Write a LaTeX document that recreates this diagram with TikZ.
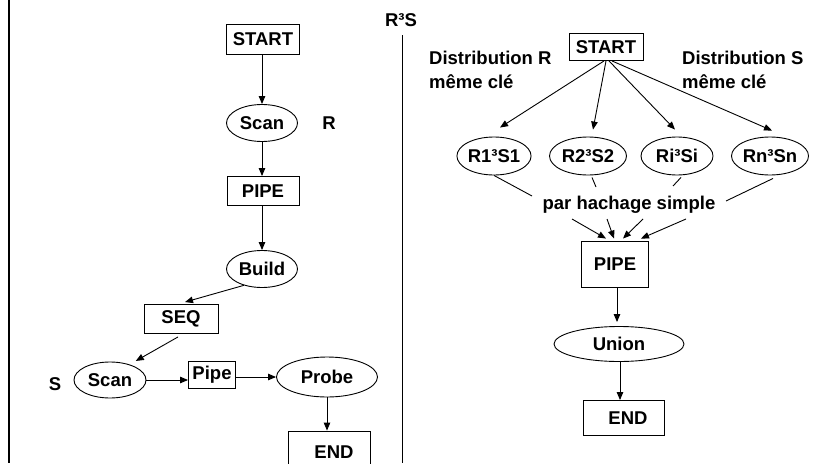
\documentclass[tikz,border=0pt]{standalone}
\usepackage{fontspec}
\setmainfont{Liberation Sans}
\usetikzlibrary{arrows.meta,shapes.geometric,calc}
\begin{document}
\begin{tikzpicture}[x=1pt,y=-1pt,
  every node/.style={font=\bfseries\fontsize{18.5}{22}\selectfont, inner sep=0pt},
  box/.style={draw, line width=0.9pt, rectangle},
  oval/.style={draw, line width=0.9pt, ellipse},
  link/.style={line width=0.9pt},
  flow/.style={link, -{Triangle[length=8pt,width=6.5pt]}}]
\clip (0,0) rectangle (816,463);

% frame lines
\draw[line width=2.4pt] (9,0) -- (9,463);
\draw[line width=0.8pt] (402,35) -- (402,463);
\node (title) at (401,20) {R³S};

% ---- left: sequential plan ----
\node[box, minimum width=73pt, minimum height=30pt] (lstart) at (263,39) {START};
\node[oval, minimum width=71pt, minimum height=37pt] (lscan) at (262,123) {Scan};
\node (rlab) at (329,123) {R};
\node[box, minimum width=72pt, minimum height=29pt] (lpipe) at (263,191) {PIPE};
\node[oval, minimum width=71pt, minimum height=37pt] (lbuild) at (262,269) {Build};
\node[box, minimum width=74pt, minimum height=29pt] (lseq) at (181,319) {SEQ};
\node[oval, minimum width=72pt, minimum height=36pt] (sscan) at (110,380) {Scan};
\node (slab) at (55,384) {S};
\node[box, minimum width=47pt, minimum height=27pt] (spipe) at (212,375) {Pipe};
\node[oval, minimum width=101pt, minimum height=40pt] (probe) at (327,377) {Probe};
\node[box, minimum width=82pt, minimum height=42pt] (lend) at (329,452) {\hspace*{10pt}END};

\draw[flow] (lstart.south -| lscan.north) -- (lscan.north);
\draw[flow] (lscan.south) -- (lscan.south |- lpipe.north);
\draw[flow] (lpipe.south -| lbuild.north) -- (lbuild.north);
\draw[flow] (lbuild.222) -- ([xshift=4pt,yshift=2pt]lseq.north);
\draw[flow] ([xshift=-3pt,yshift=-3pt]lseq.south) -- ([yshift=6pt]sscan.north east);
\draw[flow] (sscan.east) -- (sscan.east -| spipe.west);
\draw[flow] (spipe.east |- probe.west) -- (probe.west);
\draw[flow] (probe.south) -- (probe.south |- lend.north);

% ---- right: parallel plan ----
\node[box, minimum width=74pt, minimum height=27pt] (rstart) at (606,47) {START};
\node[anchor=base west] (dr1) at (429,64) {Distribution R};
\node[anchor=base west] (dr2) at (429,88) {même clé};
\node[anchor=base west] (ds1) at (682,64) {Distribution S};
\node[anchor=base west] (ds2) at (682,88) {même clé};

\node[oval, minimum width=74pt, minimum height=38pt] (r1) at (494,156) {R1³S1};
\node[oval, minimum width=77pt, minimum height=38pt] (r2) at (588,156) {R2³S2};
\node[oval, minimum width=72pt, minimum height=38pt] (ri) at (677,156) {Ri³Si};
\node[oval, minimum width=73pt, minimum height=38pt] (rn) at (770,156) {Rn³Sn};

\draw[flow] ([xshift=-2pt]rstart.south) -- ([xshift=6pt,yshift=9pt]r1.north);
\draw[flow] (rstart.south) -- ([xshift=5pt,yshift=7pt]r2.north);
\draw[flow] ([xshift=3pt]rstart.south) -- ([xshift=-2pt,yshift=7pt]ri.north);
\draw[flow] ([xshift=6pt]rstart.south) -- ([xshift=2pt,yshift=6pt]rn.north);

\node (hash) at (629,205) {par hachage simple};

\coordinate (h1) at (532,196);
\coordinate (h2) at (596,187);
\coordinate (h3) at (673,186);
\coordinate (h4) at (726,201);
\draw[link] (r1.south) -- (h1);
\draw[link] ([xshift=4pt,yshift=-2pt]r2.south) -- (h2);
\draw[link] ([xshift=4pt,yshift=-2pt]ri.south) -- (h3);
\draw[link] ([xshift=3pt,yshift=-3pt]rn.south) -- (h4);

\node[box, minimum width=67pt, minimum height=46pt] (rpipe) at (615,264) {PIPE};
\coordinate (p1) at (572,219);
\coordinate (p2) at (607,219);
\coordinate (p3) at (643,219);
\coordinate (p4) at (686,219);
\draw[flow] (p1) -- ([xshift=-9pt,yshift=2pt]rpipe.north);
\draw[flow] (p2) -- ([xshift=-1pt,yshift=2pt]rpipe.north);
\draw[flow] (p3) -- ([xshift=8pt,yshift=2pt]rpipe.north);
\draw[flow] (p4) -- ([xshift=26pt,yshift=2pt]rpipe.north);

\node[oval, minimum width=130pt, minimum height=35pt] (union) at (619,344) {Union};
\node[box, minimum width=81pt, minimum height=35pt] (rend) at (623.5,418) {\hspace*{9pt}END};

\draw[flow] ([xshift=2pt]rpipe.south) -- ([xshift=2pt,yshift=4pt]rpipe.south |- union.north);
\draw[flow] ([xshift=1pt]union.south) -- ([xshift=1pt]union.south |- rend.north);
\end{tikzpicture}
\end{document}
